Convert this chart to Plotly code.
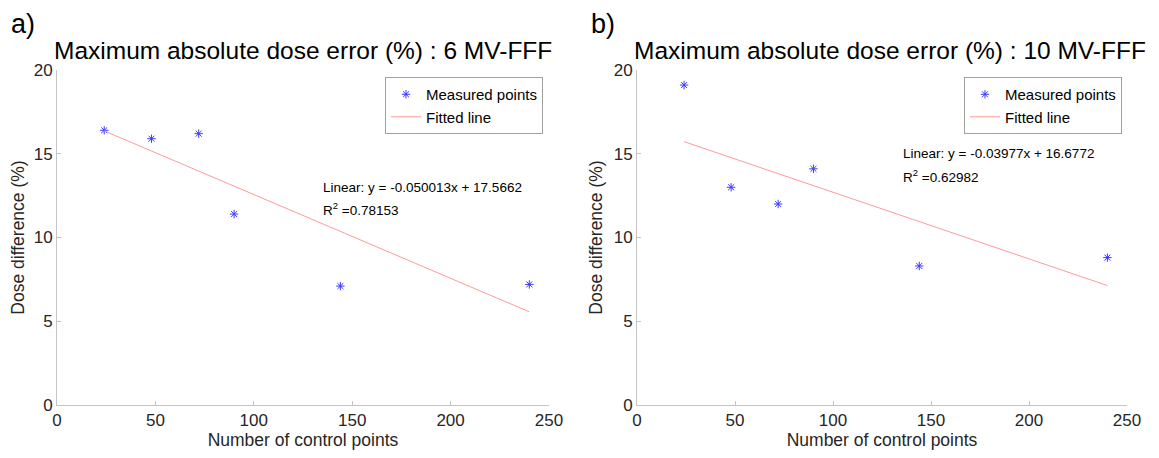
import plotly.graph_objects as go

control_points = [24, 48, 72, 90, 144, 240]
err_6mv = [16.4, 15.9, 16.2, 11.4, 7.1, 7.2]
err_10mv = [19.1, 13.0, 12.0, 14.1, 8.3, 8.8]
fit_6mv = (-0.050013, 17.5662, 0.78153)
fit_10mv = (-0.03977, 16.6772, 0.62982)
panel_titles = ["Maximum absolute dose error (%) : 6 MV-FFF",
                "Maximum absolute dose error (%) : 10 MV-FFF"]
panel_labels = ["a)", "b)"]
x_ticks = [0, 50, 100, 150, 200, 250]
y_ticks = [0, 5, 10, 15, 20]

FONT = "Liberation Sans, Arial, sans-serif"
AX = "#c4c4c4"
TXT = "#262626"

# page body has an 8px default margin; figure sized so plot areas land at the reference pixels
fig = go.Figure()
doms = [[0, 0.4598], [0.5421, 1.0]]
sets = [(err_6mv, fit_6mv), (err_10mv, fit_10mv)]
for i, (vals, (m, b, r2)) in enumerate(sets):
    xa = "x" if i == 0 else "x2"
    ya = "y" if i == 0 else "y2"
    lg = "legend" if i == 0 else "legend2"
    fig.add_trace(go.Scatter(x=control_points, y=vals, mode="markers",
                             name="Measured points", xaxis=xa, yaxis=ya, legend=lg,
                             marker=dict(symbol="asterisk-open", size=7,
                                         color="#3a3aff", line=dict(width=1, color="#3a3aff"))))
    fx = [control_points[0], control_points[-1]]
    fy = [m * v + b for v in fx]
    fig.add_trace(go.Scatter(x=fx, y=fy, mode="lines", name="Fitted line",
                             xaxis=xa, yaxis=ya, legend=lg,
                             line=dict(color="#ff9a9a", width=1)))

axis_common = dict(range=[0, 250], tickvals=x_ticks, ticks="inside", ticklen=4,
                   tickcolor=AX, showline=True, linecolor=AX, linewidth=1,
                   showgrid=False, zeroline=False, mirror=False, automargin=False,
                   tickfont=dict(family=FONT, size=17, color=TXT),
                   title=dict(text="Number of control points",
                              font=dict(family=FONT, size=17.5, color=TXT), standoff=2))
yaxis_common = dict(range=[0, 20], tickvals=y_ticks, ticks="inside", ticklen=4,
                    tickcolor=AX, showline=True, linecolor=AX, linewidth=1,
                    showgrid=False, zeroline=False, automargin=False,
                    tickfont=dict(family=FONT, size=17, color=TXT),
                    title=dict(text="Dose difference (%)",
                               font=dict(family=FONT, size=17.5, color=TXT), standoff=6))

fig.update_layout(
    width=1151, height=450,
    margin=dict(l=49, r=32, t=62, b=53),
    plot_bgcolor="white", paper_bgcolor="white",
    xaxis=dict(domain=doms[0], anchor="y", **axis_common),
    yaxis=dict(domain=[0, 1], anchor="x", **yaxis_common),
    xaxis2=dict(domain=doms[1], anchor="y2", **axis_common),
    yaxis2=dict(domain=[0, 1], anchor="x2", **yaxis_common),
    legend=dict(x=0.4542, xanchor="right", y=0.979, yanchor="top",
                bordercolor="#a0a0a0", borderwidth=1, bgcolor="white",
                font=dict(family=FONT, size=15, color="black"),
                tracegroupgap=0, itemwidth=30),
    legend2=dict(x=0.9953, xanchor="right", y=0.979, yanchor="top",
                 bordercolor="#a0a0a0", borderwidth=1, bgcolor="white",
                 font=dict(family=FONT, size=15, color="black"),
                 tracegroupgap=0, itemwidth=30),
    showlegend=True,
)

ann = []
title_x_px = [52, 632]
for i in range(2):
    xr = "x" if i == 0 else "x2"
    yr = "y" if i == 0 else "y2"
    m, b, r2 = sets[i][1]
    sign = "+" if b >= 0 else "-"
    ann.append(dict(xref="paper", yref="paper",
                    x=(title_x_px[i] - 57) / 1070, y=(405 - 51) / 335,
                    xanchor="left", yanchor="middle", showarrow=False,
                    text=panel_titles[i],
                    font=dict(family=FONT, size=24.5, color="black")))
    ann.append(dict(xref="paper", yref="paper",
                    x=((9 if i == 0 else 589) - 57) / 1070, y=(405 - 24) / 335,
                    xanchor="left", yanchor="middle", showarrow=False,
                    text=panel_labels[i],
                    font=dict(family=FONT, size=27, color="black")))
    ax_x = 134.1 if i == 0 else 134.7
    ys = (13.01, 11.70) if i == 0 else (14.99, 13.67)
    ann.append(dict(xref=xr, yref=yr, x=ax_x, y=ys[0], xanchor="left", yanchor="middle",
                    showarrow=False, align="left",
                    text=f"Linear: y = {m:g}x {sign} {abs(b):g}",
                    font=dict(family=FONT, size=13.5, color="black")))
    ann.append(dict(xref=xr, yref=yr, x=ax_x, y=ys[1], xanchor="left", yanchor="middle",
                    showarrow=False, align="left",
                    text=f"R<sup>2</sup> ={r2:g}",
                    font=dict(family=FONT, size=13.5, color="black")))
fig.update_layout(annotations=ann)

fig.write_html("out.html")
